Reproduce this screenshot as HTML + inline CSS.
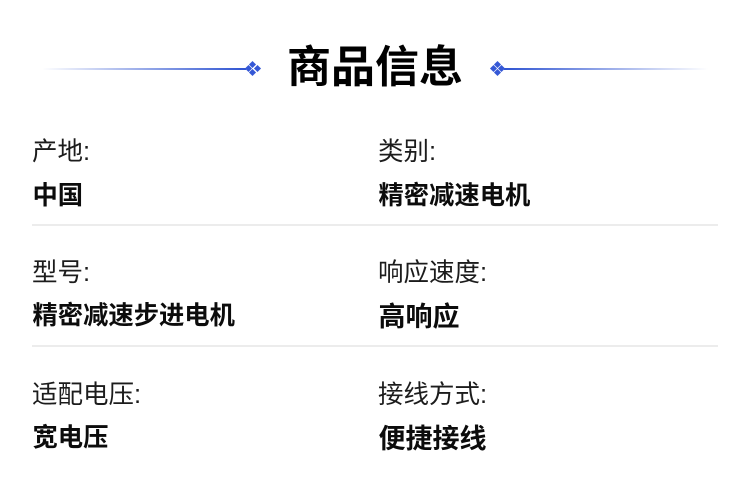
<!DOCTYPE html>
<html><head><meta charset="utf-8"><style>
html,body{margin:0;padding:0;background:#fff}
body{width:750px;height:492px;position:relative;overflow:hidden;font-family:"Liberation Sans","Noto Sans CJK SC",sans-serif;color:#111}
.t{position:absolute;white-space:nowrap;line-height:36px;font-size:25.5px}
.l{font-weight:400;color:#1c1c1c}
.b{font-weight:700;color:#0c0c0c;font-size:25.3px}
.big{font-size:27px}
.h{position:absolute;left:32px;width:686px;height:2px;background:#ececec}
.d{position:absolute;width:5px;height:5px;background:#3558d6;transform:rotate(45deg)}
</style></head><body>
<div style="position:absolute;left:42px;top:67.5px;width:204px;height:2px;background:linear-gradient(90deg,rgba(47,84,210,0),#2f54d2)"></div>
<div style="position:absolute;left:504px;top:67.5px;width:204px;height:2px;background:linear-gradient(270deg,rgba(47,84,210,0),#2f54d2)"></div>
<i class="d" style="left:250.4px;top:61.6px"></i><i class="d" style="left:250.4px;top:70px"></i><i class="d" style="left:246.2px;top:65.8px"></i><i class="d" style="left:254.6px;top:65.8px"></i>
<i class="d" style="left:494.9px;top:61.6px"></i><i class="d" style="left:494.9px;top:70px"></i><i class="d" style="left:490.7px;top:65.8px"></i><i class="d" style="left:499.1px;top:65.8px"></i>
<div class="t" style="left:287px;top:43px;font-size:44px;line-height:50px;font-weight:700;color:#000">商品信息</div>
<div class="t l" style="left:32px;top:134px">产地:</div>
<div class="t b" style="left:32.5px;top:178px">中国</div>
<div class="t l" style="left:378px;top:134px">类别:</div>
<div class="t b" style="left:378.5px;top:178px">精密减速电机</div>
<div class="h" style="top:224px"></div>
<div class="t l" style="left:32px;top:255px">型号:</div>
<div class="t b" style="left:32.5px;top:298px">精密减速步进电机</div>
<div class="t l" style="left:378px;top:255px">响应速度:</div>
<div class="t b big" style="left:378.5px;top:299px">高响应</div>
<div class="h" style="top:345px"></div>
<div class="t l" style="left:32px;top:377px">适配电压:</div>
<div class="t b" style="left:32.5px;top:420px">宽电压</div>
<div class="t l" style="left:378px;top:377px">接线方式:</div>
<div class="t b big" style="left:378.5px;top:421px">便捷接线</div>
</body></html>
